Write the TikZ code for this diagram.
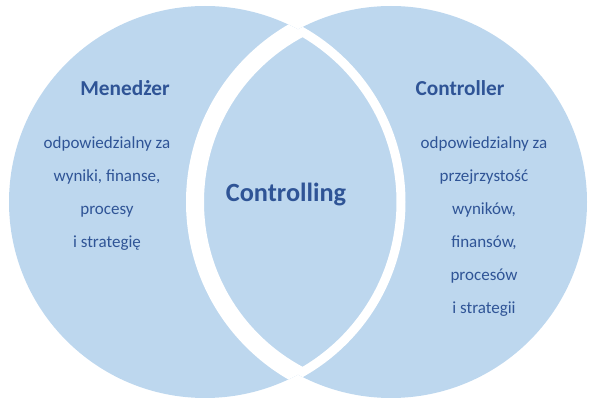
\documentclass[tikz,border=0pt]{standalone}
\usepackage{fontspec}
\setmainfont{Carlito}
\definecolor{vennblue}{RGB}{189,215,238}
\definecolor{textblue}{RGB}{47,84,150}
\usepackage{tikz}
\usetikzlibrary{positioning}

\begin{document}
\begin{tikzpicture}[x=1pt, y=-1pt,
    bodytext/.style={text=textblue, inner sep=0pt, text height=12pt, text depth=4pt, font=\fontsize{17}{20}\selectfont},
    titletext/.style={text=textblue, inner sep=0pt, font=\fontsize{21.3}{25}\selectfont\bfseries}]
    \useasboundingbox (0,0) rectangle (590,398);
    \coordinate (lc) at (205,202);
    \coordinate (rc) at (391,202);
    % circles
    \fill[vennblue] (lc) circle[radius=196];
    \fill[vennblue] (rc) circle[radius=196];
    \begin{scope}
        \clip (lc) circle[radius=196];
        \draw[white, line width=18pt] (rc) circle[radius=196];
    \end{scope}
    \begin{scope}
        \clip (rc) circle[radius=196];
        \draw[white, line width=9pt] (lc) circle[radius=196];
    \end{scope}
    % titles
    \node[titletext] (manager) at (125,88) {Menedżer};
    \node[titletext] (controller) at (460,88) {Controller};
    \node[titletext, font=\fontsize{26.3}{30}\selectfont\bfseries] (controlling) at (286,195) {Controlling};
    % lines of text
    \foreach \t [count=\i] in {odpowiedzialny za, {wyniki, finanse,}, procesy, i strategię} {
        \node[bodytext] (m\i) at (107,{145+33*(\i-1)}) {\t};
    }
    \foreach \t [count=\i] in {odpowiedzialny za, przejrzystość, {wyników,}, {finansów,}, procesów, i strategii} {
        \node[bodytext] (c\i) at (484,{145+33*(\i-1)}) {\t};
    }
\end{tikzpicture}
\end{document}
